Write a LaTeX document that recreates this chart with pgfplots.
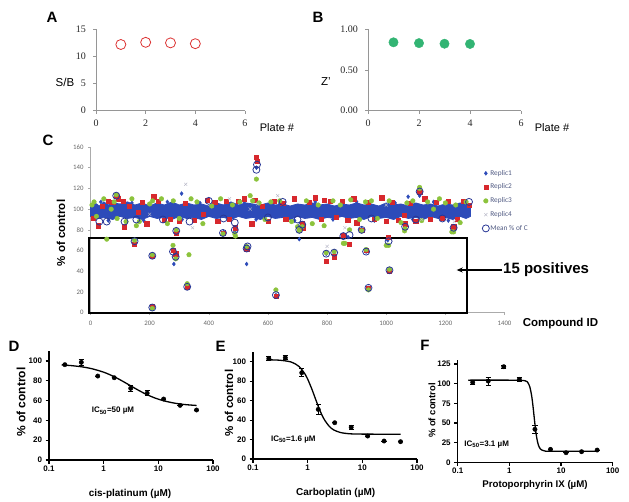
\documentclass[border=0pt]{standalone}
\usepackage{fontspec}
\setmainfont{Liberation Sans}
\newfontfamily\timesf{Liberation Serif}
\newfontfamily\calf{Carlito}
\usepackage{pgfplots}
\pgfplotsset{compat=1.18}
\usetikzlibrary{arrows.meta}
\definecolor{cBlue}{RGB}{45,75,185}
\definecolor{cRed}{RGB}{215,40,45}
\definecolor{cGreen}{RGB}{140,195,60}
\definecolor{cGray}{RGB}{185,185,200}
\definecolor{cMean}{RGB}{40,55,150}
\definecolor{aRed}{RGB}{220,50,50}
\definecolor{bGreen}{RGB}{50,180,115}
\definecolor{legtext}{RGB}{80,90,130}
\definecolor{axgray}{RGB}{150,150,150}
\pgfplotsset{
  exA/.style={scale only axis, anchor=south west, axis lines*=left, clip=false,
    axis line style={draw=axgray, line width=0.6pt},
    tick style={draw=axgray, line width=0.6pt}, tick align=outside, major tick length=3pt,
    /pgf/number format/assume math mode=true,
    tick label style={font=\timesf\fontsize{10}{12}\selectfont, text=black!85},
    xticklabel style={yshift=-3pt}, yticklabel style={xshift=-3.5pt}},
  gp/.style={scale only axis, anchor=south west, axis lines*=left, clip=false,
    axis line style={line width=1.1pt}, tick style={line width=1.1pt, black}, tick align=outside, major tick length=3.5pt,
    xmin=0.1, xmax=100, xminorticks=false,
    xtick={0.1,1,10,100}, xticklabels={0.1,1,10,100},
    /pgf/number format/assume math mode=true,
    tick label style={font=\bfseries\fontsize{8}{9}\selectfont},
    xticklabel style={yshift=1pt}},
  gpdata/.style={only marks, mark=*, mark size=2.2pt, black,
    error bars/.cd, y dir=both, y explicit,
    error bar style={line width=0.8pt, black},
    error mark options={rotate=90, mark size=2.6pt, line width=0.8pt, black}},
  gpfit/.style={no marks, black, line width=1.3pt, smooth}
}
\begin{document}
\begin{tikzpicture}
\path[use as bounding box] (0pt,0pt) rectangle (629pt,-501pt);

% ---------------- Panel A
\begin{axis}[exA, at={(96pt,-110.7pt)}, width=149pt, height=81.4pt,
  xmin=0, xmax=6, ymin=0, ymax=15, xtick={0,2,4,6}, ytick={0,5,10,15}]
\addplot[only marks, mark=o, mark size=5pt, draw=aRed, line width=0.8pt]
  coordinates {(1,12.2) (2,12.6) (3,12.5) (4,12.35)};
\end{axis}
\node[font=\bfseries\fontsize{15}{18}\selectfont, inner sep=0pt] at (52pt,-17.5pt) {A};
\node[font=\fontsize{11.5}{13}\selectfont, inner sep=0pt] at (65pt,-82pt) {S/B};
\node[font=\fontsize{11}{13}\selectfont, inner sep=0pt] at (277pt,-128pt) {Plate \#};

% ---------------- Panel B
\begin{axis}[exA, at={(368pt,-110.7pt)}, width=153pt, height=81.4pt,
  xmin=0, xmax=6, ymin=0, ymax=1, xtick={0,2,4,6}, ytick={0,0.5,1},
  yticklabels={0.00,0.50,1.00}]
\addplot[only marks, mark=*, mark size=4.7pt, draw=bGreen, fill=bGreen]
  coordinates {(1,0.84) (2,0.83) (3,0.823) (4,0.82)};
\end{axis}
\node[font=\bfseries\fontsize{15}{18}\selectfont, inner sep=0pt] at (318pt,-17.5pt) {B};
\node[font=\fontsize{11.5}{13}\selectfont, inner sep=0pt] at (326pt,-82pt) {Z'};
\node[font=\fontsize{11}{13}\selectfont, inner sep=0pt] at (552pt,-128pt) {Plate \#};

% ---------------- Panel C
\begin{axis}[scale only axis, anchor=south west, at={(90.5pt,-312.7pt)}, width=414pt, height=165.7pt,
  axis lines*=left, clip=false,
  axis line style={draw=axgray!80, line width=0.5pt},
  tick style={draw=axgray!80, line width=0.5pt}, tick align=outside, major tick length=2.5pt,
  xmin=0, xmax=1400, ymin=0, ymax=160,
  xtick={0,200,...,1400}, ytick={0,20,...,160},
  /pgf/number format/assume math mode=true,
  /pgf/number format/1000 sep={},
  tick label style={font=\calf\fontsize{6.8}{8}\selectfont, text=black!60},
  xticklabel style={yshift=-2.5pt}, yticklabel style={xshift=-1pt},
  legend style={at={(rel axis cs:0.946,0.868)}, anchor=north west, draw=none, fill=none,
    inner sep=0pt, font=\calf\fontsize{7.3}{8}\selectfont, text=legtext, row sep=5.2pt,
    nodes={inner sep=1pt}},
  legend cell align=left,
  legend image code/.code={\draw[#1] plot coordinates {(0pt,0pt)};}]
% dense band of Replic1 values
\addplot[forget plot, fill=cBlue, draw=cBlue, line width=0.8pt] coordinates {
(0,104)(15,106)(30,103)(45,107)(60,104)(75,106)(100,105)(125,107)(150,104)(175,106)(200,103)
(225,106)(250,104)(275,107)(300,104)(325,106)(350,104)(375,105)(400,103)(425,106)(450,104)
(475,107)(500,104)(525,106)(550,105)(575,104)(600,106)(625,104)(650,105)(675,103)(700,105)
(725,104)(750,106)(775,104)(800,105)(825,103)(850,105)(875,104)(900,106)(925,104)(950,105)
(975,103)(1000,106)(1025,104)(1050,105)(1075,103)(1100,106)(1125,104)(1150,105)(1175,103)
(1200,105)(1225,104)(1250,106)(1270,104)(1285,103)
(1285,93)(1270,91)(1250,93)(1225,90)(1200,92)(1175,91)(1150,93)(1125,90)(1100,92)(1075,91)
(1050,93)(1025,90)(1000,92)(975,91)(950,93)(925,90)(900,92)(875,91)(850,93)(825,91)(800,92)
(775,90)(750,92)(725,91)(700,93)(675,90)(650,92)(625,91)(600,93)(575,90)(550,92)(525,91)
(500,93)(475,90)(450,92)(425,91)(400,93)(375,90)(350,92)(325,91)(300,93)(275,90)(250,92)
(225,91)(200,93)(175,90)(150,92)(125,91)(100,93)(75,90)(50,92)(25,91)(0,93)} --cycle;
% Replic1
\addplot[only marks, mark=diamond*, mark size=2pt, color=cBlue] coordinates {
(20,96)(50,99)(86,112)(120,95)(149,69)(209,55)(209,4)(282,47)(289,54)(308,115)(327,25)(400,98)
(450,78)(488,78)(528,47)(528,61)(561,140)(627,17)(706,71)(716,84)(797,57)(824,58)(855,73)(871,73)
(917,81)(932,59)(940,24)(1005,70)(1010,40)(1064,83)(1074,112)(1113,113)(1228,81)(1280,99)
(35,107)(140,106)(260,107)(370,106)(520,107)(640,106)(760,107)(900,107)(1030,106)(1160,107)(1270,106)
(60,89)(180,89)(310,90)(430,89)(560,90)(690,89)(820,90)(960,89)(1090,90)(1210,89)};
\addlegendentry{Replic1}
% Replic2
\addplot[only marks, mark=square*, mark size=2.1pt, color=cRed] coordinates {
(8,91)(25,84)(40,103)(60,108)(75,107)(95,110)(110,108)(115,83)(130,103)(160,97)(175,107)(190,86)
(214,112)(230,108)(250,89)(270,90)(300,88)(320,106)(350,89)(380,95)(395,109)(420,107)(430,88)
(460,108)(470,90)(500,108)(520,110)(545,86)(555,109)(580,103)(600,88)(620,108)(650,106)(660,90)
(690,110)(720,82)(740,107)(760,111)(780,90)(790,109)(810,108)(830,92)(850,108)(870,89)(890,110)
(900,87)(940,107)(960,90)(985,111)(1000,88)(1020,107)(1040,89)(1060,94)(1080,106)(1100,88)
(1130,110)(1150,90)(1170,107)(1190,91)(1210,108)(1240,90)(1260,108)(1280,104)
(87,113)(149,66)(209,55)(209,6)(279,60)(288,57)(290,77)(327,25)(448,77)(488,82)(528,61)(561,150)
(563,146)(627,16)(706,80)(716,86)(797,50)(824,54)(855,75)(876,66)(917,80)(932,60)(940,24)
(1008,73)(1011,40)(1064,86)(1113,116)(1228,83)};
\addlegendentry{Replic2}
% Replic3
\addplot[only marks, mark=*, mark size=2.3pt, color=cGreen] coordinates {
(5,104)(12,107)(20,93)(45,110)(55,71)(70,100)(80,107)(90,91)(120,88)(140,110)(155,84)(165,88)
(200,105)(210,108)(240,110)(260,86)(280,108)(300,91)(340,110)(360,107)(380,86)(410,103)(440,110)
(480,104)(490,74)(505,107)(540,113)(548,108)(570,106)(590,90)(610,107)(640,108)(680,88)(700,83)
(730,108)(750,86)(770,104)(790,84)(820,108)(845,104)(860,67)(880,109)(910,90)(930,107)(950,108)
(970,91)(1000,65)(1010,108)(1050,87)(1062,79)(1070,106)(1090,108)(1113,121)(1120,89)(1140,107)
(1160,100)(1180,110)(1200,106)(1222,78)(1235,104)(1250,87)(1270,107)
(87,114)(149,70)(209,56)(209,4)(279,65)(288,52)(290,80)(327,28)(333,56)(448,76)(488,76)(528,64)
(561,129)(627,22)(706,79)(716,83)(797,58)(824,59)(855,67)(876,80)(917,79)(932,61)(940,22)
(1008,65)(1011,42)(1064,81)(1113,120)(1228,78)};
\addlegendentry{Replic3}
% Replic4
\addplot[only marks, mark=x, mark size=2.2pt, color=cGray] coordinates {
(322,124)(633,113)(565,105)(345,82)(860,82)(1000,104)(1120,90)(200,95)(800,64)(540,100)(1230,88)(470,110)};
\addlegendentry{Replic4}
% Mean % of C
\addplot[only marks, mark=o, mark size=3.5pt, color=cMean, line width=0.8pt] coordinates {
(87,113)(149,69)(209,55)(209,5)(279,59)(288,54)(290,79)(327,25)(448,77)(488,80)(488,87)(528,62)
(531,64)(561,138)(563,143)(627,17)(706,80)(716,85)(797,57)(824,58)(855,74)(876,75)(917,80)(932,59)
(940,24)(1008,69)(1011,41)(1064,83)(1113,117)(1228,82)
(30,88)(55,88)(115,88)(155,90)(245,90)(335,88)(450,91)(600,92)(700,90)(950,91)(1280,107)(1100,90)
(1190,91)(400,108)(650,107)};
\addlegendentry{Mean \% of C}
\draw[black, line width=1.8pt] (axis cs:-4,-0.6) rectangle (axis cs:1274,71.8);
\end{axis}
\node[font=\bfseries\fontsize{15}{18}\selectfont, inner sep=0pt] at (48pt,-140pt) {C};
\node[font=\bfseries\fontsize{11.5}{13}\selectfont, inner sep=0pt, rotate=90] at (61pt,-233pt) {\% of control};
\node[font=\bfseries\fontsize{11.5}{13}\selectfont, inner sep=0pt] at (560.5pt,-324pt) {Compound ID};
\node[font=\bfseries\fontsize{15}{18}\selectfont, inner sep=0pt, anchor=west] at (503pt,-270pt) {15 positives};
\draw[black, line width=1.3pt, -{Stealth[length=6pt,width=5pt]}] (501.7pt,-270pt) -- (456.7pt,-270pt);

% ---------------- Panel D
\begin{semilogxaxis}[gp, at={(49pt,-460pt)}, width=164pt, height=108.9pt,
  ymin=0, ymax=110, ytick={0,20,...,100}]
\addplot[gpfit] coordinates {(0.17,96.0)(0.25,95.4)(0.4,94.1)(0.6,92.3)(1,88.7)(1.5,84.6)(2,81.0)(3,75.5)
  (4,71.5)(6,66.4)(9,62.3)(13,59.6)(20,57.4)(30,56.05)(50,55.1)};
\addplot[gpdata] table[x=x, y=y, y error=e] {
x y e
0.195 96.3 0
0.39 98.7 3
0.78 84.8 0
1.56 83.1 0
3.125 72.4 3
6.25 67.5 2.5
12.5 61.6 0
25 55.2 0
50 50.5 0
};
\end{semilogxaxis}
\node[font=\bfseries\fontsize{15}{18}\selectfont, inner sep=0pt] at (14pt,-346pt) {D};
\node[font=\bfseries\fontsize{10}{12}\selectfont, inner sep=0pt] at (130pt,-494pt) {cis-platinum (µM)};
\node[font=\bfseries\fontsize{12}{14}\selectfont, inner sep=0pt, rotate=90] at (21pt,-402pt) {\% of control};
\node[font=\bfseries\fontsize{8}{10}\selectfont, inner sep=0pt] at (113pt,-411pt) {IC\textsubscript{50}=50 µM};

% ---------------- Panel E
\begin{semilogxaxis}[gp, at={(253pt,-459pt)}, width=164pt, height=107pt,
  ymin=0, ymax=110, ytick={0,20,...,100}]
\addplot[gpfit] coordinates {(0.178,102.0)(0.3,101.6)(0.5,99.7)(0.7,95.0)(0.9,87.1)(1.0,82.2)(1.2,71.5)
  (1.35,63.75)(1.5,56.8)(1.7,49.1)(2.0,40.9)(2.5,33.4)(3,29.9)(4,27.2)(6,25.9)(10,25.6)(50,25.5)};
\addplot[gpdata] table[x=x, y=y, y error=e] {
x y e
0.195 103.5 2
0.39 104.1 2
0.78 88.7 4
1.56 51 5
3.125 37.3 0
6.25 32.6 2
12.5 23.6 0
25 18.5 0
50 17.8 0
};
\end{semilogxaxis}
\node[font=\bfseries\fontsize{15}{18}\selectfont, inner sep=0pt] at (220.5pt,-346pt) {E};
\node[font=\bfseries\fontsize{10}{12}\selectfont, inner sep=0pt] at (335.7pt,-493.3pt) {Carboplatin (µM)};
\node[font=\bfseries\fontsize{11.5}{14}\selectfont, inner sep=0pt, rotate=90] at (229pt,-403pt) {\% of control};
\node[font=\bfseries\fontsize{8}{10}\selectfont, inner sep=0pt] at (293.3pt,-439.3pt) {IC\textsubscript{50}=1.6 µM};

% ---------------- Panel F
\begin{semilogxaxis}[gp, at={(457.7pt,-462.3pt)}, width=155pt, height=102.2pt,
  ymin=0, ymax=130, ytick={0,25,...,125}]
\addplot[gpfit] coordinates {(0.16,104.5)(1,104.5)(2,103.8)(2.3,100.9)(2.5,95.4)(2.7,84.6)(2.85,72.8)
  (3.0,59.25)(3.15,46.4)(3.3,35.9)(3.5,26.3)(3.75,19.8)(4,16.8)(5,14.2)(10,14)(50,14)};
\addplot[gpdata] table[x=x, y=y, y error=e] {
x y e
0.195 101.7 3
0.39 103.4 5
0.78 121.6 2
1.56 105.5 3
3.125 42 5
6.25 16.5 0
12.5 12.2 0
25 13.5 0
50 15.6 0
};
\end{semilogxaxis}
\node[font=\bfseries\fontsize{15}{18}\selectfont, inner sep=0pt] at (425pt,-345.7pt) {F};
\node[font=\bfseries\fontsize{9.7}{12}\selectfont, inner sep=0pt] at (535pt,-485pt) {Protoporphyrin IX (µM)};
\node[font=\bfseries\fontsize{9.5}{12}\selectfont, inner sep=0pt, rotate=90] at (432pt,-410.5pt) {\% of control};
\node[font=\bfseries\fontsize{8}{10}\selectfont, inner sep=0pt] at (486.7pt,-444.3pt) {IC\textsubscript{50}=3.1 µM};
\end{tikzpicture}
\end{document}
